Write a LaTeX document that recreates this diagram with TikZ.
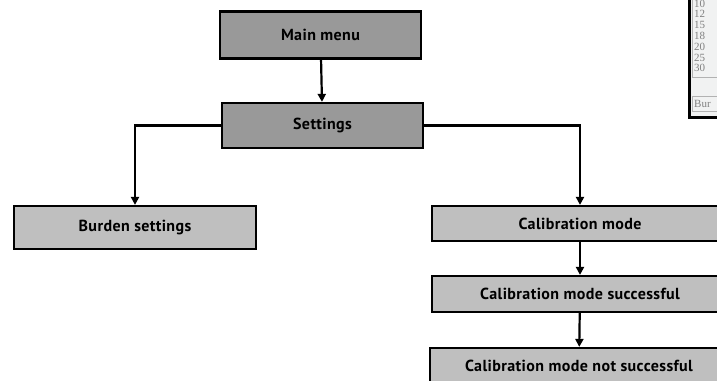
\documentclass[tikz,border=0pt]{standalone}
\usepackage{fontspec}
\setmainfont{PT Sans}[LetterSpace=2.5]
\newfontfamily\listfont{Liberation Serif}
\usetikzlibrary{arrows.meta}

\tikzset{
  menubox/.style={draw, line width=2.2pt, fill=gray!80, font=\bfseries\fontsize{16}{18}\selectfont, inner sep=0pt},
  subbox/.style={menubox, fill=gray!50},
  flow/.style={line width=2.2pt, -{Triangle[length=8pt,width=8pt]}}
}

\begin{document}
\begin{tikzpicture}[x=1pt, y=-1pt]
\useasboundingbox (0,0) rectangle (717,380);
\clip (0,0) rectangle (717,380);
% menu boxes
\node[menubox, minimum width=201pt, minimum height=47pt] (mainmenu) at (320.5,35) {Main menu};
\node[menubox, minimum width=201pt, minimum height=45pt] (settings) at (322.5,125.5) {Settings};
\node[subbox, minimum width=242pt, minimum height=43pt] (burden) at (135,227.5) {Burden settings};
\node[subbox, minimum width=296pt, minimum height=35pt] (calib) at (580,223.5) {Calibration mode};
\node[subbox, minimum width=296pt, minimum height=36pt] (calibok) at (580,294) {Calibration mode successful};
\node[subbox, minimum width=298pt, minimum height=36pt] (calibfail) at (579,366) {Calibration mode not successful};
% connectors
\draw[flow] (mainmenu) -- (settings);
\draw[flow] (settings.west) -| (burden.north);
\draw[flow] (settings.east) -| (calib.north);
\draw[flow] (calib) -- (calibok);
\draw[flow] (calibok) -- (calibfail);
% piece of a screenshot in the corner
\fill[black] (688,-2) rectangle (720,119);
\fill[cyan!5!gray!12] (691,-2) rectangle (720,116);
\draw[gray!60] (692.5,-2) rectangle (720,77);
\draw[gray!60] (692.5,96) rectangle (720,111);
\foreach \n [count=\i] in {10,12,15,18,20,25,30}
  \node[font=\listfont\fontsize{11}{12}\selectfont, text=gray, anchor=west, inner sep=0pt] (row\i) at (694,3.5+10.8*\i-10.8) {\n};
\node[font=\listfont\fontsize{11}{12}\selectfont, text=gray, anchor=west, inner sep=0pt] (bur) at (694,103.5) {Bur};
\end{tikzpicture}
\end{document}
